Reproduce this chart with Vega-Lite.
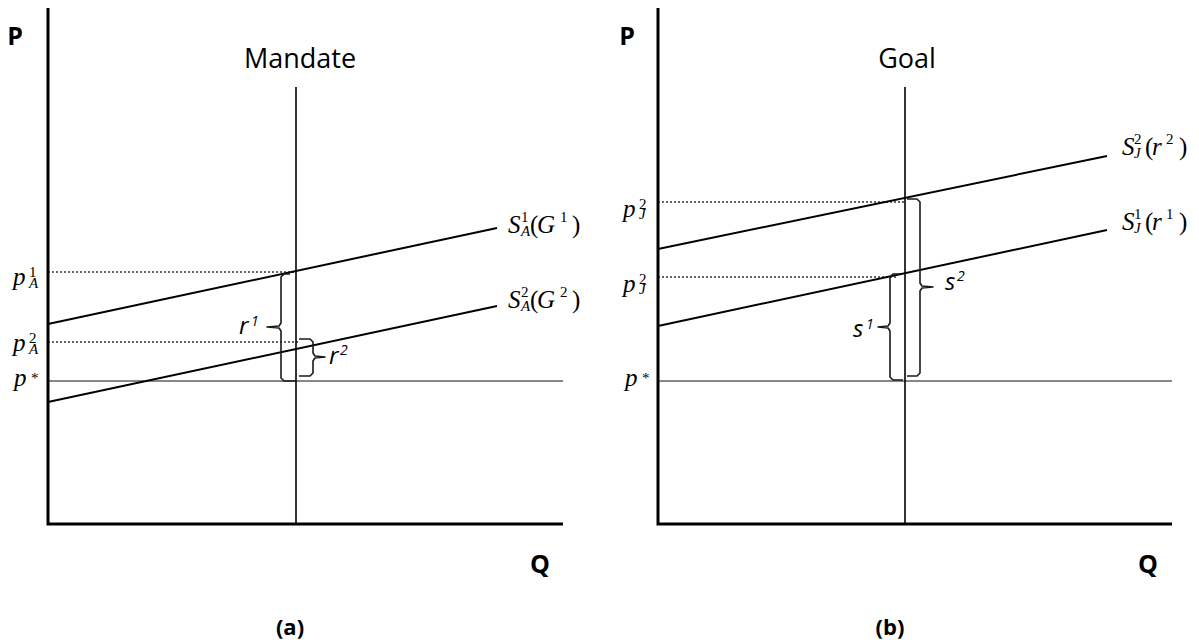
{
  "$schema": "https://vega.github.io/schema/vega-lite/v6.json",
  "padding": 0,
  "spacing": 0,
  "bounds": "flush",
  "background": "white",
  "config": {"view": {"stroke": null}},
  "resolve": {"scale": {"x": "independent", "y": "independent"}},
  "datasets": {
    "d": [
      {"p": "a", "k": "axis", "id": "a-ax", "i": 0, "Q": 0, "P": 103.2},
      {"p": "a", "k": "axis", "id": "a-ax", "i": 1, "Q": 0, "P": 0},
      {"p": "a", "k": "axis", "id": "a-ax", "i": 2, "Q": 103, "P": 0},
      {"p": "a", "k": "vline", "id": "a-v", "i": 0, "Q": 49.6, "P": 0},
      {"p": "a", "k": "vline", "id": "a-v", "i": 1, "Q": 49.6, "P": 87.4},
      {"p": "a", "k": "pstar", "id": "a-ps", "i": 0, "Q": 0, "P": 28.6},
      {"p": "a", "k": "pstar", "id": "a-ps", "i": 1, "Q": 103, "P": 28.6},
      {"p": "a", "k": "supply", "id": "a-s1", "i": 0, "Q": 0, "P": 40},
      {"p": "a", "k": "supply", "id": "a-s1", "i": 1, "Q": 89.8, "P": 59.2},
      {"p": "a", "k": "supply", "id": "a-s2", "i": 0, "Q": 0, "P": 24.4},
      {"p": "a", "k": "supply", "id": "a-s2", "i": 1, "Q": 89.8, "P": 43.6},
      {"p": "a", "k": "dotted", "id": "a-d1", "i": 0, "Q": 0, "P": 50.4},
      {"p": "a", "k": "dotted", "id": "a-d1", "i": 1, "Q": 49.6, "P": 50.4},
      {"p": "a", "k": "dotted", "id": "a-d2", "i": 0, "Q": 0, "P": 36.4},
      {"p": "a", "k": "dotted", "id": "a-d2", "i": 1, "Q": 50, "P": 36.4},
      {"p": "a", "k": "brace", "id": "a-b1", "i": 0, "Q": 48.4, "P": 50.0},
      {"p": "a", "k": "brace", "id": "a-b1", "i": 1, "Q": 47.2, "P": 50.0},
      {"p": "a", "k": "brace", "id": "a-b1", "i": 2, "Q": 46.6, "P": 49.4},
      {"p": "a", "k": "brace", "id": "a-b1", "i": 3, "Q": 46.6, "P": 40.2},
      {"p": "a", "k": "brace", "id": "a-b1", "i": 4, "Q": 46.2, "P": 39.6},
      {"p": "a", "k": "brace", "id": "a-b1", "i": 5, "Q": 43.8, "P": 39.4},
      {"p": "a", "k": "brace", "id": "a-b1", "i": 6, "Q": 46.2, "P": 39.2},
      {"p": "a", "k": "brace", "id": "a-b1", "i": 7, "Q": 46.6, "P": 38.6},
      {"p": "a", "k": "brace", "id": "a-b1", "i": 8, "Q": 46.6, "P": 29.2},
      {"p": "a", "k": "brace", "id": "a-b1", "i": 9, "Q": 47.2, "P": 28.6},
      {"p": "a", "k": "brace", "id": "a-b1", "i": 10, "Q": 49.4, "P": 28.6},
      {"p": "a", "k": "brace", "id": "a-b2", "i": 0, "Q": 50.2, "P": 37.0},
      {"p": "a", "k": "brace", "id": "a-b2", "i": 1, "Q": 52.4, "P": 37.0},
      {"p": "a", "k": "brace", "id": "a-b2", "i": 2, "Q": 53.0, "P": 36.4},
      {"p": "a", "k": "brace", "id": "a-b2", "i": 3, "Q": 53.0, "P": 34.2},
      {"p": "a", "k": "brace", "id": "a-b2", "i": 4, "Q": 53.4, "P": 33.6},
      {"p": "a", "k": "brace", "id": "a-b2", "i": 5, "Q": 55.4, "P": 33.4},
      {"p": "a", "k": "brace", "id": "a-b2", "i": 6, "Q": 53.4, "P": 33.2},
      {"p": "a", "k": "brace", "id": "a-b2", "i": 7, "Q": 53.0, "P": 32.6},
      {"p": "a", "k": "brace", "id": "a-b2", "i": 8, "Q": 53.0, "P": 30.2},
      {"p": "a", "k": "brace", "id": "a-b2", "i": 9, "Q": 52.4, "P": 29.6},
      {"p": "a", "k": "brace", "id": "a-b2", "i": 10, "Q": 50.2, "P": 29.6},

      {"p": "a", "k": "title", "t": "Mandate", "Q": 50.4, "P": 92.8},
      {"p": "a", "k": "ax", "t": "P", "Q": -6.6, "P": 97.4},
      {"p": "a", "k": "ax", "t": "Q", "Q": 98.4, "P": -8.2},
      {"p": "a", "k": "cap", "t": "(a)", "Q": 48.4, "P": -20.8},
      {"p": "a", "k": "mi", "t": "p", "Q": -7, "P": 47.8},
      {"p": "a", "k": "su", "t": "1", "Q": -3.8, "P": 49.4},
      {"p": "a", "k": "si", "t": "A", "Q": -3.8, "P": 47.2},
      {"p": "a", "k": "mi", "t": "p", "Q": -7, "P": 34.6},
      {"p": "a", "k": "su", "t": "2", "Q": -3.8, "P": 36.2},
      {"p": "a", "k": "si", "t": "A", "Q": -3.8, "P": 34.0},
      {"p": "a", "k": "mi", "t": "p", "Q": -6.8, "P": 27.6},
      {"p": "a", "k": "su", "t": "*", "Q": -3.4, "P": 28.2},
      {"p": "a", "k": "bi", "t": "r", "Q": 38.2, "P": 38},
      {"p": "a", "k": "bs", "t": "1", "Q": 40.6, "P": 39.6},
      {"p": "a", "k": "bi", "t": "r", "Q": 56.2, "P": 32},
      {"p": "a", "k": "bs", "t": "2", "Q": 58.4, "P": 33.8},
      {"p": "a", "k": "mi", "t": "S", "Q": 92, "P": 58.2},
      {"p": "a", "k": "su", "t": "1", "Q": 94.6, "P": 60.4},
      {"p": "a", "k": "si", "t": "A", "Q": 94.6, "P": 57.6},
      {"p": "a", "k": "mu", "t": "(", "Q": 96.4, "P": 58.2},
      {"p": "a", "k": "mi", "t": "G", "Q": 97.8, "P": 58.2},
      {"p": "a", "k": "su", "t": "1", "Q": 102.4, "P": 60.4},
      {"p": "a", "k": "mu", "t": ")", "Q": 104.8, "P": 58.2},
      {"p": "a", "k": "mi", "t": "S", "Q": 92, "P": 43.2},
      {"p": "a", "k": "su", "t": "2", "Q": 94.6, "P": 45.4},
      {"p": "a", "k": "si", "t": "A", "Q": 94.6, "P": 42.6},
      {"p": "a", "k": "mu", "t": "(", "Q": 96.4, "P": 43.2},
      {"p": "a", "k": "mi", "t": "G", "Q": 97.8, "P": 43.2},
      {"p": "a", "k": "su", "t": "2", "Q": 102.4, "P": 45.4},
      {"p": "a", "k": "mu", "t": ")", "Q": 104.8, "P": 43.2},

      {"p": "b", "k": "axis", "id": "b-ax", "i": 0, "Q": 0, "P": 103.2},
      {"p": "b", "k": "axis", "id": "b-ax", "i": 1, "Q": 0, "P": 0},
      {"p": "b", "k": "axis", "id": "b-ax", "i": 2, "Q": 102.8, "P": 0},
      {"p": "b", "k": "vline", "id": "b-v", "i": 0, "Q": 49.4, "P": 0},
      {"p": "b", "k": "vline", "id": "b-v", "i": 1, "Q": 49.4, "P": 87.4},
      {"p": "b", "k": "pstar", "id": "b-ps", "i": 0, "Q": 0, "P": 28.6},
      {"p": "b", "k": "pstar", "id": "b-ps", "i": 1, "Q": 102.8, "P": 28.6},
      {"p": "b", "k": "supply", "id": "b-s2", "i": 0, "Q": 0, "P": 55},
      {"p": "b", "k": "supply", "id": "b-s2", "i": 1, "Q": 89.8, "P": 73.6},
      {"p": "b", "k": "supply", "id": "b-s1", "i": 0, "Q": 0, "P": 39.6},
      {"p": "b", "k": "supply", "id": "b-s1", "i": 1, "Q": 89.8, "P": 58.8},
      {"p": "b", "k": "dotted", "id": "b-d1", "i": 0, "Q": 0, "P": 64.4},
      {"p": "b", "k": "dotted", "id": "b-d1", "i": 1, "Q": 49.4, "P": 64.4},
      {"p": "b", "k": "dotted", "id": "b-d2", "i": 0, "Q": 0, "P": 49.4},
      {"p": "b", "k": "dotted", "id": "b-d2", "i": 1, "Q": 48, "P": 49.4},
      {"p": "b", "k": "brace", "id": "b-b1", "i": 0, "Q": 48.4, "P": 50.0},
      {"p": "b", "k": "brace", "id": "b-b1", "i": 1, "Q": 47.0, "P": 50.0},
      {"p": "b", "k": "brace", "id": "b-b1", "i": 2, "Q": 46.4, "P": 49.4},
      {"p": "b", "k": "brace", "id": "b-b1", "i": 3, "Q": 46.4, "P": 40.2},
      {"p": "b", "k": "brace", "id": "b-b1", "i": 4, "Q": 46.0, "P": 39.6},
      {"p": "b", "k": "brace", "id": "b-b1", "i": 5, "Q": 44.0, "P": 39.4},
      {"p": "b", "k": "brace", "id": "b-b1", "i": 6, "Q": 46.0, "P": 39.2},
      {"p": "b", "k": "brace", "id": "b-b1", "i": 7, "Q": 46.4, "P": 38.6},
      {"p": "b", "k": "brace", "id": "b-b1", "i": 8, "Q": 46.4, "P": 29.4},
      {"p": "b", "k": "brace", "id": "b-b1", "i": 9, "Q": 47.0, "P": 28.8},
      {"p": "b", "k": "brace", "id": "b-b1", "i": 10, "Q": 49.0, "P": 28.8},
      {"p": "b", "k": "brace", "id": "b-b2", "i": 0, "Q": 49.8, "P": 65.0},
      {"p": "b", "k": "brace", "id": "b-b2", "i": 1, "Q": 51.8, "P": 65.0},
      {"p": "b", "k": "brace", "id": "b-b2", "i": 2, "Q": 52.4, "P": 64.4},
      {"p": "b", "k": "brace", "id": "b-b2", "i": 3, "Q": 52.4, "P": 48.2},
      {"p": "b", "k": "brace", "id": "b-b2", "i": 4, "Q": 52.8, "P": 47.6},
      {"p": "b", "k": "brace", "id": "b-b2", "i": 5, "Q": 55.0, "P": 47.4},
      {"p": "b", "k": "brace", "id": "b-b2", "i": 6, "Q": 52.8, "P": 47.2},
      {"p": "b", "k": "brace", "id": "b-b2", "i": 7, "Q": 52.4, "P": 46.6},
      {"p": "b", "k": "brace", "id": "b-b2", "i": 8, "Q": 52.4, "P": 30.2},
      {"p": "b", "k": "brace", "id": "b-b2", "i": 9, "Q": 51.8, "P": 29.6},
      {"p": "b", "k": "brace", "id": "b-b2", "i": 10, "Q": 49.8, "P": 29.6},

      {"p": "b", "k": "title", "t": "Goal", "Q": 49.8, "P": 92.8},
      {"p": "b", "k": "ax", "t": "P", "Q": -6.2, "P": 97.4},
      {"p": "b", "k": "ax", "t": "Q", "Q": 98, "P": -8.2},
      {"p": "b", "k": "cap", "t": "(b)", "Q": 46.4, "P": -20.8},
      {"p": "b", "k": "mi", "t": "p", "Q": -7, "P": 61.4},
      {"p": "b", "k": "su", "t": "2", "Q": -3.8, "P": 63.0},
      {"p": "b", "k": "si", "t": "J", "Q": -3.8, "P": 61.0},
      {"p": "b", "k": "mi", "t": "p", "Q": -7, "P": 46.4},
      {"p": "b", "k": "su", "t": "2", "Q": -3.8, "P": 48.0},
      {"p": "b", "k": "si", "t": "J", "Q": -3.8, "P": 46.0},
      {"p": "b", "k": "mi", "t": "p", "Q": -6.6, "P": 27.6},
      {"p": "b", "k": "su", "t": "*", "Q": -3.2, "P": 28.2},
      {"p": "b", "k": "bi", "t": "s", "Q": 39, "P": 37.4},
      {"p": "b", "k": "bs", "t": "1", "Q": 41.6, "P": 39},
      {"p": "b", "k": "bi", "t": "s", "Q": 57.4, "P": 46.8},
      {"p": "b", "k": "bs", "t": "2", "Q": 59.8, "P": 48.6},
      {"p": "b", "k": "mi", "t": "S", "Q": 92.8, "P": 73.8},
      {"p": "b", "k": "su", "t": "2", "Q": 95.2, "P": 76.0},
      {"p": "b", "k": "si", "t": "J", "Q": 95.2, "P": 73.2},
      {"p": "b", "k": "mu", "t": "(", "Q": 97.4, "P": 73.8},
      {"p": "b", "k": "mi", "t": "r", "Q": 98.8, "P": 73.8},
      {"p": "b", "k": "su", "t": "2", "Q": 101.6, "P": 76.0},
      {"p": "b", "k": "mu", "t": ")", "Q": 104.2, "P": 73.8},
      {"p": "b", "k": "mi", "t": "S", "Q": 92.8, "P": 58.8},
      {"p": "b", "k": "su", "t": "1", "Q": 95.2, "P": 61.0},
      {"p": "b", "k": "si", "t": "J", "Q": 95.2, "P": 58.2},
      {"p": "b", "k": "mu", "t": "(", "Q": 97.4, "P": 58.8},
      {"p": "b", "k": "mi", "t": "r", "Q": 98.8, "P": 58.8},
      {"p": "b", "k": "su", "t": "1", "Q": 101.6, "P": 61.0},
      {"p": "b", "k": "mu", "t": ")", "Q": 104.2, "P": 58.8}
    ]
  },
  "hconcat": [
    {
      "width": 600,
      "height": 643,
      "data": {"name": "d"},
      "transform": [{"filter": "datum.p === 'a'"}],
      "encoding": {
        "x": {"field": "Q", "type": "quantitative", "scale": {"domain": [-9.6, 110.4], "nice": false, "zero": false}, "axis": null},
        "y": {"field": "P", "type": "quantitative", "scale": {"domain": [-23.8, 104.8], "nice": false, "zero": false}, "axis": null}
      },
      "layer": [
        {"transform": [{"filter": "datum.k === 'pstar'"}], "mark": {"type": "line", "stroke": "#111111", "strokeWidth": 1}, "encoding": {"detail": {"field": "id"}, "order": {"field": "i", "type": "quantitative"}}},
        {"transform": [{"filter": "datum.k === 'dotted'"}], "mark": {"type": "line", "stroke": "#333333", "strokeWidth": 1.6, "strokeDash": [2, 2]}, "encoding": {"detail": {"field": "id"}, "order": {"field": "i", "type": "quantitative"}}},
        {"transform": [{"filter": "datum.k === 'supply'"}], "mark": {"type": "line", "stroke": "black", "strokeWidth": 2}, "encoding": {"detail": {"field": "id"}, "order": {"field": "i", "type": "quantitative"}}},
        {"transform": [{"filter": "datum.k === 'vline'"}], "mark": {"type": "line", "stroke": "black", "strokeWidth": 1.6}, "encoding": {"detail": {"field": "id"}, "order": {"field": "i", "type": "quantitative"}}},
        {"transform": [{"filter": "datum.k === 'brace'"}], "mark": {"type": "line", "stroke": "#1a1a1a", "strokeWidth": 1.6, "strokeJoin": "round"}, "encoding": {"detail": {"field": "id"}, "order": {"field": "i", "type": "quantitative"}}},
        {"transform": [{"filter": "datum.k === 'axis'"}], "mark": {"type": "line", "stroke": "black", "strokeWidth": 3, "strokeJoin": "miter"}, "encoding": {"detail": {"field": "id"}, "order": {"field": "i", "type": "quantitative"}}},
        {"transform": [{"filter": "datum.k === 'title'"}], "mark": {"type": "text", "font": "Open Sans", "fontSize": 27, "align": "center", "baseline": "middle", "color": "black"}, "encoding": {"text": {"field": "t"}}},
        {"transform": [{"filter": "datum.k === 'ax'"}], "mark": {"type": "text", "font": "Open Sans", "fontWeight": "bold", "fontSize": 25, "align": "center", "baseline": "middle", "color": "black"}, "encoding": {"text": {"field": "t"}}},
        {"transform": [{"filter": "datum.k === 'cap'"}], "mark": {"type": "text", "font": "Open Sans", "fontWeight": "bold", "fontSize": 22, "align": "center", "baseline": "middle", "color": "black"}, "encoding": {"text": {"field": "t"}}},
        {"transform": [{"filter": "datum.k === 'mi'"}], "mark": {"type": "text", "font": "Liberation Serif", "fontStyle": "italic", "fontSize": 25, "align": "left", "baseline": "alphabetic", "color": "black"}, "encoding": {"text": {"field": "t"}}},
        {"transform": [{"filter": "datum.k === 'mu'"}], "mark": {"type": "text", "font": "Liberation Serif", "fontSize": 25, "align": "left", "baseline": "alphabetic", "color": "black"}, "encoding": {"text": {"field": "t"}}},
        {"transform": [{"filter": "datum.k === 'si'"}], "mark": {"type": "text", "font": "Liberation Serif", "fontStyle": "italic", "fontSize": 15, "align": "left", "baseline": "alphabetic", "color": "black"}, "encoding": {"text": {"field": "t"}}},
        {"transform": [{"filter": "datum.k === 'su'"}], "mark": {"type": "text", "font": "Liberation Serif", "fontSize": 15, "align": "left", "baseline": "alphabetic", "color": "black"}, "encoding": {"text": {"field": "t"}}},
        {"transform": [{"filter": "datum.k === 'bi'"}], "mark": {"type": "text", "font": "Open Sans", "fontStyle": "italic", "fontSize": 24, "align": "left", "baseline": "alphabetic", "color": "black"}, "encoding": {"text": {"field": "t"}}},
        {"transform": [{"filter": "datum.k === 'bs'"}], "mark": {"type": "text", "font": "Open Sans", "fontStyle": "italic", "fontSize": 14, "align": "left", "baseline": "alphabetic", "color": "black"}, "encoding": {"text": {"field": "t"}}}
      ]
    },
    {
      "width": 599,
      "height": 643,
      "data": {"name": "d"},
      "transform": [{"filter": "datum.p === 'b'"}],
      "encoding": {
        "x": {"field": "Q", "type": "quantitative", "scale": {"domain": [-11.6, 108.2], "nice": false, "zero": false}, "axis": null},
        "y": {"field": "P", "type": "quantitative", "scale": {"domain": [-23.8, 104.8], "nice": false, "zero": false}, "axis": null}
      },
      "layer": [
        {"transform": [{"filter": "datum.k === 'pstar'"}], "mark": {"type": "line", "stroke": "#111111", "strokeWidth": 1}, "encoding": {"detail": {"field": "id"}, "order": {"field": "i", "type": "quantitative"}}},
        {"transform": [{"filter": "datum.k === 'dotted'"}], "mark": {"type": "line", "stroke": "#333333", "strokeWidth": 1.6, "strokeDash": [2, 2]}, "encoding": {"detail": {"field": "id"}, "order": {"field": "i", "type": "quantitative"}}},
        {"transform": [{"filter": "datum.k === 'supply'"}], "mark": {"type": "line", "stroke": "black", "strokeWidth": 2}, "encoding": {"detail": {"field": "id"}, "order": {"field": "i", "type": "quantitative"}}},
        {"transform": [{"filter": "datum.k === 'vline'"}], "mark": {"type": "line", "stroke": "black", "strokeWidth": 1.6}, "encoding": {"detail": {"field": "id"}, "order": {"field": "i", "type": "quantitative"}}},
        {"transform": [{"filter": "datum.k === 'brace'"}], "mark": {"type": "line", "stroke": "#1a1a1a", "strokeWidth": 1.6, "strokeJoin": "round"}, "encoding": {"detail": {"field": "id"}, "order": {"field": "i", "type": "quantitative"}}},
        {"transform": [{"filter": "datum.k === 'axis'"}], "mark": {"type": "line", "stroke": "black", "strokeWidth": 3, "strokeJoin": "miter"}, "encoding": {"detail": {"field": "id"}, "order": {"field": "i", "type": "quantitative"}}},
        {"transform": [{"filter": "datum.k === 'title'"}], "mark": {"type": "text", "font": "Open Sans", "fontSize": 27, "align": "center", "baseline": "middle", "color": "black"}, "encoding": {"text": {"field": "t"}}},
        {"transform": [{"filter": "datum.k === 'ax'"}], "mark": {"type": "text", "font": "Open Sans", "fontWeight": "bold", "fontSize": 25, "align": "center", "baseline": "middle", "color": "black"}, "encoding": {"text": {"field": "t"}}},
        {"transform": [{"filter": "datum.k === 'cap'"}], "mark": {"type": "text", "font": "Open Sans", "fontWeight": "bold", "fontSize": 22, "align": "center", "baseline": "middle", "color": "black"}, "encoding": {"text": {"field": "t"}}},
        {"transform": [{"filter": "datum.k === 'mi'"}], "mark": {"type": "text", "font": "Liberation Serif", "fontStyle": "italic", "fontSize": 25, "align": "left", "baseline": "alphabetic", "color": "black"}, "encoding": {"text": {"field": "t"}}},
        {"transform": [{"filter": "datum.k === 'mu'"}], "mark": {"type": "text", "font": "Liberation Serif", "fontSize": 25, "align": "left", "baseline": "alphabetic", "color": "black"}, "encoding": {"text": {"field": "t"}}},
        {"transform": [{"filter": "datum.k === 'si'"}], "mark": {"type": "text", "font": "Liberation Serif", "fontStyle": "italic", "fontSize": 15, "align": "left", "baseline": "alphabetic", "color": "black"}, "encoding": {"text": {"field": "t"}}},
        {"transform": [{"filter": "datum.k === 'su'"}], "mark": {"type": "text", "font": "Liberation Serif", "fontSize": 15, "align": "left", "baseline": "alphabetic", "color": "black"}, "encoding": {"text": {"field": "t"}}},
        {"transform": [{"filter": "datum.k === 'bi'"}], "mark": {"type": "text", "font": "Open Sans", "fontStyle": "italic", "fontSize": 24, "align": "left", "baseline": "alphabetic", "color": "black"}, "encoding": {"text": {"field": "t"}}},
        {"transform": [{"filter": "datum.k === 'bs'"}], "mark": {"type": "text", "font": "Open Sans", "fontStyle": "italic", "fontSize": 14, "align": "left", "baseline": "alphabetic", "color": "black"}, "encoding": {"text": {"field": "t"}}}
      ]
    }
  ]
}
